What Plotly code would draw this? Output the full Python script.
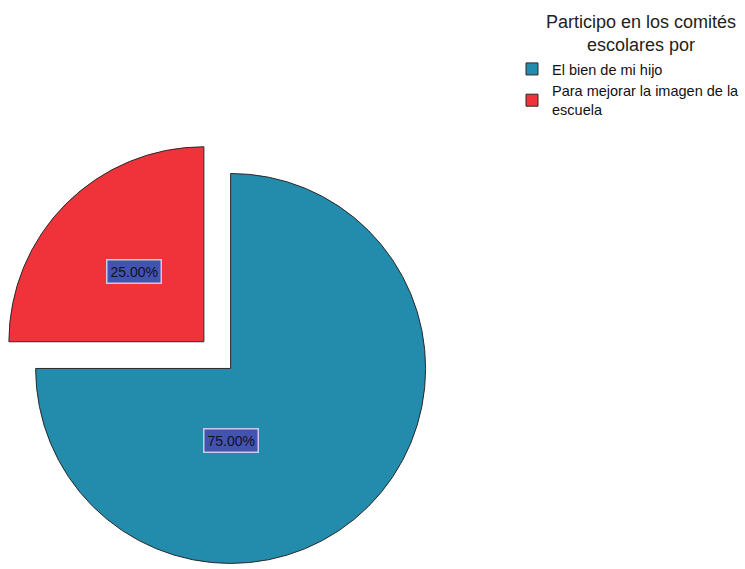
import math
import plotly.graph_objects as go

# ---- data ----
labels = ["El bien de mi hijo", "Para mejorar la imagen de la<br>escuela"]
values = [75.0, 25.0]
legend_title = "Participo en los comités<br>escolares por"

# ---- style ----
W, H = 745, 569
colors = ["#238bab", "#f0323a"]
r = 195.0
gap_px = 37.8
pull = gap_px / (2 * r)
half = r * (1 + pull)
cx_px = 217.25
cy_px = H - half

fig = go.Figure()
fig.add_trace(go.Pie(
    labels=labels,
    values=values,
    sort=False,
    direction="clockwise",
    rotation=0,
    pull=[pull, pull],
    marker=dict(colors=colors, line=dict(color="#2a2a2a", width=1)),
    textinfo="none",
    hoverinfo="label+percent",
    domain=dict(
        x=[max(0, (cx_px - half) / W), min(1, (cx_px + half) / W)],
        y=[max(0, 1 - (cy_px + half) / H), min(1, 1 - (cy_px - half) / H)],
    ),
))

# percentage labels placed from pie geometry
total = sum(values)
start = 0.0
label_dirs = [(180.0, 0.37), (None, 0.51)]  # (label angle override, distance fraction)
for v, (ang_over, frac) in zip(values, label_dirs):
    span = v / total * 360.0
    mid = start + span / 2.0
    apex_x = cx_px + pull * r * math.sin(math.radians(mid))
    apex_y = cy_px - pull * r * math.cos(math.radians(mid))
    la = mid if ang_over is None else ang_over
    lx = apex_x + frac * r * math.sin(math.radians(la))
    ly = apex_y - frac * r * math.cos(math.radians(la))
    fig.add_annotation(
        x=lx / W, y=1 - ly / H, xref="paper", yref="paper",
        text=f"{v / total * 100:.2f}%", showarrow=False,
        font=dict(family="Liberation Sans, Arial", size=14, color="#111122"),
        bgcolor="#4353b0", bordercolor="#c9cbe0", borderwidth=1.5, borderpad=3,
        xanchor="center", yanchor="middle",
    )
    start += span

# legend title (centered lines)
fig.add_annotation(
    x=641 / W, y=1 - 33 / H, xref="paper", yref="paper",
    text=legend_title, showarrow=False, align="center",
    xanchor="center", yanchor="middle",
    font=dict(family="Liberation Sans, Arial", size=18, color="#222222"),
)

fig.update_layout(
    width=W, height=H,
    margin=dict(l=0, r=0, t=0, b=0),
    paper_bgcolor="white",
    plot_bgcolor="white",
    font=dict(family="Liberation Sans, Arial", size=14, color="#111111"),
    legend=dict(
        x=512 / W, xanchor="left",
        y=1 - 53 / H, yanchor="top",
        bgcolor="rgba(0,0,0,0)",
        font=dict(size=14.5, color="#111111"),
        itemwidth=30,
        tracegroupgap=0,
    ),
    showlegend=True,
)

fig.write_html("out.html", config={"displayModeBar": False},
               post_script="document.body.style.margin='0px';")
